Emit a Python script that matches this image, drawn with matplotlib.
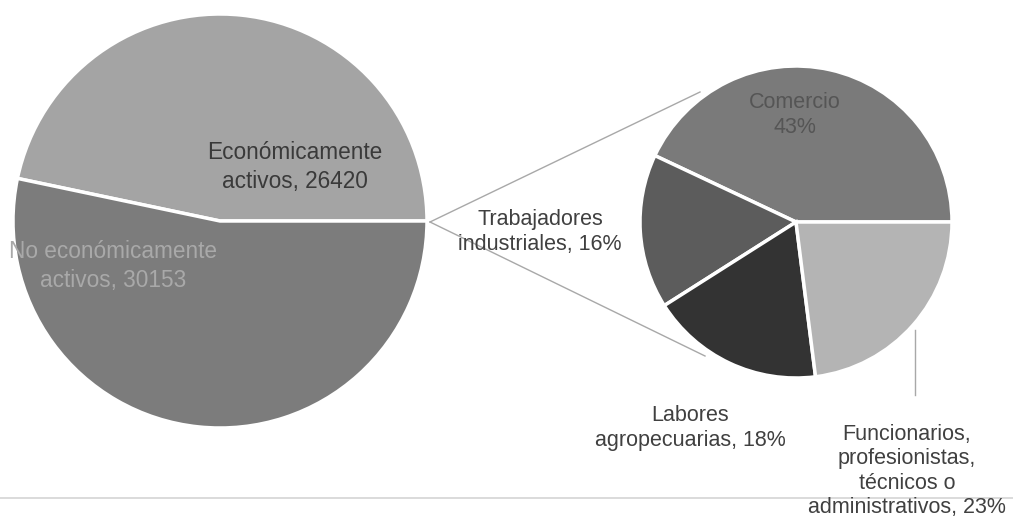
import matplotlib
matplotlib.use("Agg")
import matplotlib.pyplot as plt

plt.rcParams['font.family'] = ['Liberation Sans', 'DejaVu Sans']

# main pie
main_labels = ["Económicamente\nactivos, 26420", "No económicamente\nactivos, 30153"]
main_values = [26420, 30153]
main_colors = ["#a4a4a4", "#7c7c7c"]

# breakdown of the economically active population (%)
sub_labels = ["Comercio\n43%", "Trabajadores\nindustriales, 16%",
              "Labores\nagropecuarias, 18%",
              "Funcionarios,\nprofesionistas,\ntécnicos o\nadministrativos, 23%"]
sub_values = [43, 16, 18, 23]
sub_colors = ["#7a7a7a", "#5c5c5c", "#333333", "#b4b4b4"]

W, H = 1013, 522


def Y(y):
    # pixel row -> data y (axis goes up)
    return H - y


fig = plt.figure(figsize=(W / 100, H / 100), dpi=100)
ax = fig.add_axes([0, 0, 1, 1])

wp = dict(edgecolor="white", linewidth=2.5)
ax.pie(main_values, colors=main_colors, startangle=0, counterclock=True,
       center=(220, Y(221)), radius=207, wedgeprops=wp)
ax.pie(sub_values, colors=sub_colors, startangle=0, counterclock=True,
       center=(796, Y(222)), radius=156, wedgeprops=wp)

ax.set_xlim(0, W)
ax.set_ylim(0, H)
ax.set_aspect("equal")
ax.axis("off")

# connector lines
ax.plot([430, 700], [Y(222), Y(92)], color="#a8a8a8", lw=1)
ax.plot([430, 705], [Y(222), Y(356)], color="#a8a8a8", lw=1)

# leader line for funcionarios
ax.plot([915, 915], [Y(330), Y(395)], color="#a8a8a8", lw=1)

# bottom rule
ax.plot([0, W], [Y(498), Y(498)], color="#d4d4d4", lw=1.2, zorder=0)

# labels
ax.text(295, Y(167), main_labels[0], ha="center", va="center",
        fontsize=16.3, color="#3a3a3a", linespacing=1.35)
ax.text(113, Y(266), main_labels[1], ha="center", va="center",
        fontsize=16.3, color="#a9a9a9", linespacing=1.35)

ax.text(795, Y(115), sub_labels[0], ha="center", va="center",
        fontsize=15.5, color="#555555", linespacing=1.22)
ax.text(540, Y(232), sub_labels[1], ha="center", va="center",
        fontsize=15.5, color="#404040", linespacing=1.22)
ax.text(690, Y(428), sub_labels[2], ha="center", va="center",
        fontsize=15.5, color="#404040", linespacing=1.22)
ax.text(907, Y(471), sub_labels[3], ha="center", va="center",
        fontsize=15.5, color="#404040", linespacing=1.22)

fig.savefig("out.png", dpi=100, facecolor="white")
